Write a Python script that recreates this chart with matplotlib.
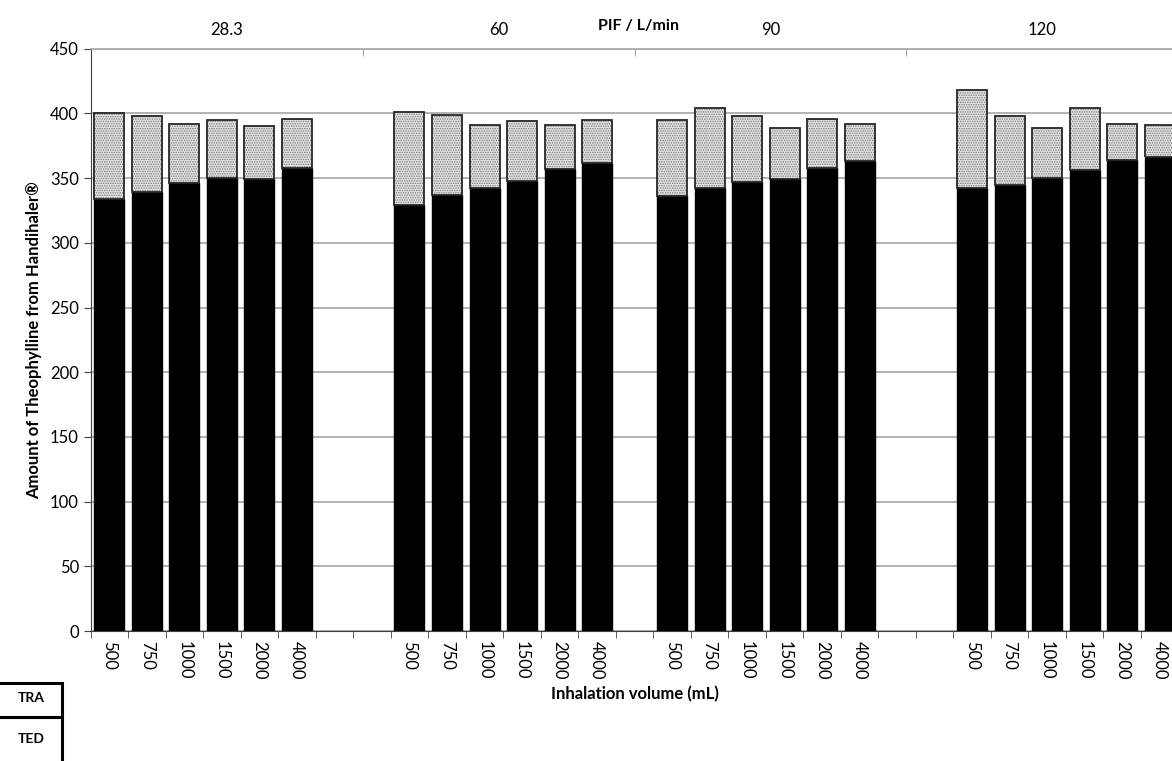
import numpy as np
import matplotlib
matplotlib.use("Agg")
import matplotlib.pyplot as plt
import matplotlib.patches as patches

plt.rcParams['font.family'] = ['Lato', 'DejaVu Sans']
plt.rcParams['hatch.linewidth'] = 0.7

# inhalation volumes (mL) shown under each PIF group, blanks are empty slots
volumes = ['500', '750', '1000', '1500', '2000', '4000']
categories = volumes + ['', ''] + volumes + [''] + volumes + ['', ''] + volumes
pif_labels = ['28.3', '60', '90', '120']

nan = np.nan
# TED (black, bottom) and TRA (dotted, top) per slot
ted = [334, 339, 346, 350, 349, 358, nan, nan,
       329, 337, 342, 348, 357, 362, nan,
       336, 342, 347, 349, 358, 363, nan, nan,
       342, 345, 350, 356, 364, 366]
tra = [66, 59, 46, 45, 41, 38, nan, nan,
       72, 62, 49, 46, 34, 33, nan,
       59, 62, 51, 40, 38, 29, nan, nan,
       76, 53, 39, 48, 28, 25]


def make_chart():
    fig = plt.figure(figsize=(11.72, 7.61), dpi=100)
    ax = fig.add_axes([0.0774, 0.1708, 0.928, 0.7652])
    x = np.arange(len(categories))
    ted_a = np.array(ted, dtype=float)
    tra_a = np.array(tra, dtype=float)

    ax.bar(x, ted_a, width=0.8, color='black', edgecolor='black', linewidth=1.0, zorder=3)
    # dotted part: texture first, then outline
    ax.bar(x, tra_a, bottom=ted_a, width=0.8, facecolor='#e2e2e2', edgecolor='#7a7a7a',
           hatch='.......', linewidth=0, zorder=3)
    ax.bar(x, tra_a, bottom=ted_a, width=0.8, fill=False, edgecolor='#262626',
           linewidth=1.3, zorder=4)

    ax.set_xlim(-0.5, len(categories) - 0.5)
    ax.set_ylim(0, 450)
    ax.set_yticks(np.arange(0, 451, 50))
    ax.grid(axis='y', color='#a6a6a6', linewidth=1.2, zorder=0)
    ax.tick_params(axis='y', direction='out', length=5, color='#404040', labelsize=12)

    ax.set_xticks(x)
    ax.set_xticklabels(categories, rotation=-90, fontsize=12)
    ax.set_xticks(np.arange(len(categories) + 1) - 0.5, minor=True)
    ax.tick_params(axis='x', which='major', length=0, pad=7)
    ax.tick_params(axis='x', which='minor', direction='out', length=5, color='#404040')

    ax.spines['right'].set_visible(False)
    ax.spines['top'].set_color('#a6a6a6')
    ax.spines['top'].set_linewidth(1.2)
    ax.spines['left'].set_color('#404040')
    ax.spines['bottom'].set_color('#404040')

    ax.set_ylabel('Amount of Theophylline from Handihaler®', fontsize=12,
                  fontweight='bold', labelpad=6)
    ax.set_xlabel('Inhalation volume (mL)', fontsize=12, fontweight='bold', labelpad=5)

    # secondary top axis for PIF groups
    top = ax.twiny()
    top.set_xlim(ax.get_xlim())
    n = len(categories)
    seg = n / len(pif_labels)
    top.set_xticks([-0.5 + seg * i for i in range(1, len(pif_labels))])
    top.set_xticklabels([])
    top.set_xticks([-0.5 + seg * (i + 0.5) for i in range(len(pif_labels))], minor=True)
    top.set_xticklabels(pif_labels, minor=True, fontsize=12)
    top.tick_params(axis='x', which='major', direction='in', length=5, color='#a6a6a6')
    top.tick_params(axis='x', which='minor', length=0, pad=8)
    for side in ['left', 'right', 'bottom', 'top']:
        top.spines[side].set_visible(False)

    fig.text(0.545, 0.966, 'PIF / L/min', fontsize=11.5, fontweight='bold',
             ha='center', va='center')

    # cropped data-table legend at lower left
    for (y0, h, ty, label) in [(683, 34, 698, 'TRA'), (717, 46, 739, 'TED')]:
        rect = patches.Rectangle((-2 / 1172, 1 - (y0 + h) / 761), 64 / 1172, h / 761,
                                 transform=fig.transFigure, fill=False,
                                 edgecolor='black', linewidth=2.2)
        fig.add_artist(rect)
        fig.text(31 / 1172, 1 - ty / 761, label, fontsize=10, fontweight='bold',
                 ha='center', va='center')

    fig.savefig('out.png', dpi=100)
    plt.close(fig)


if __name__ == "__main__":
    make_chart()
